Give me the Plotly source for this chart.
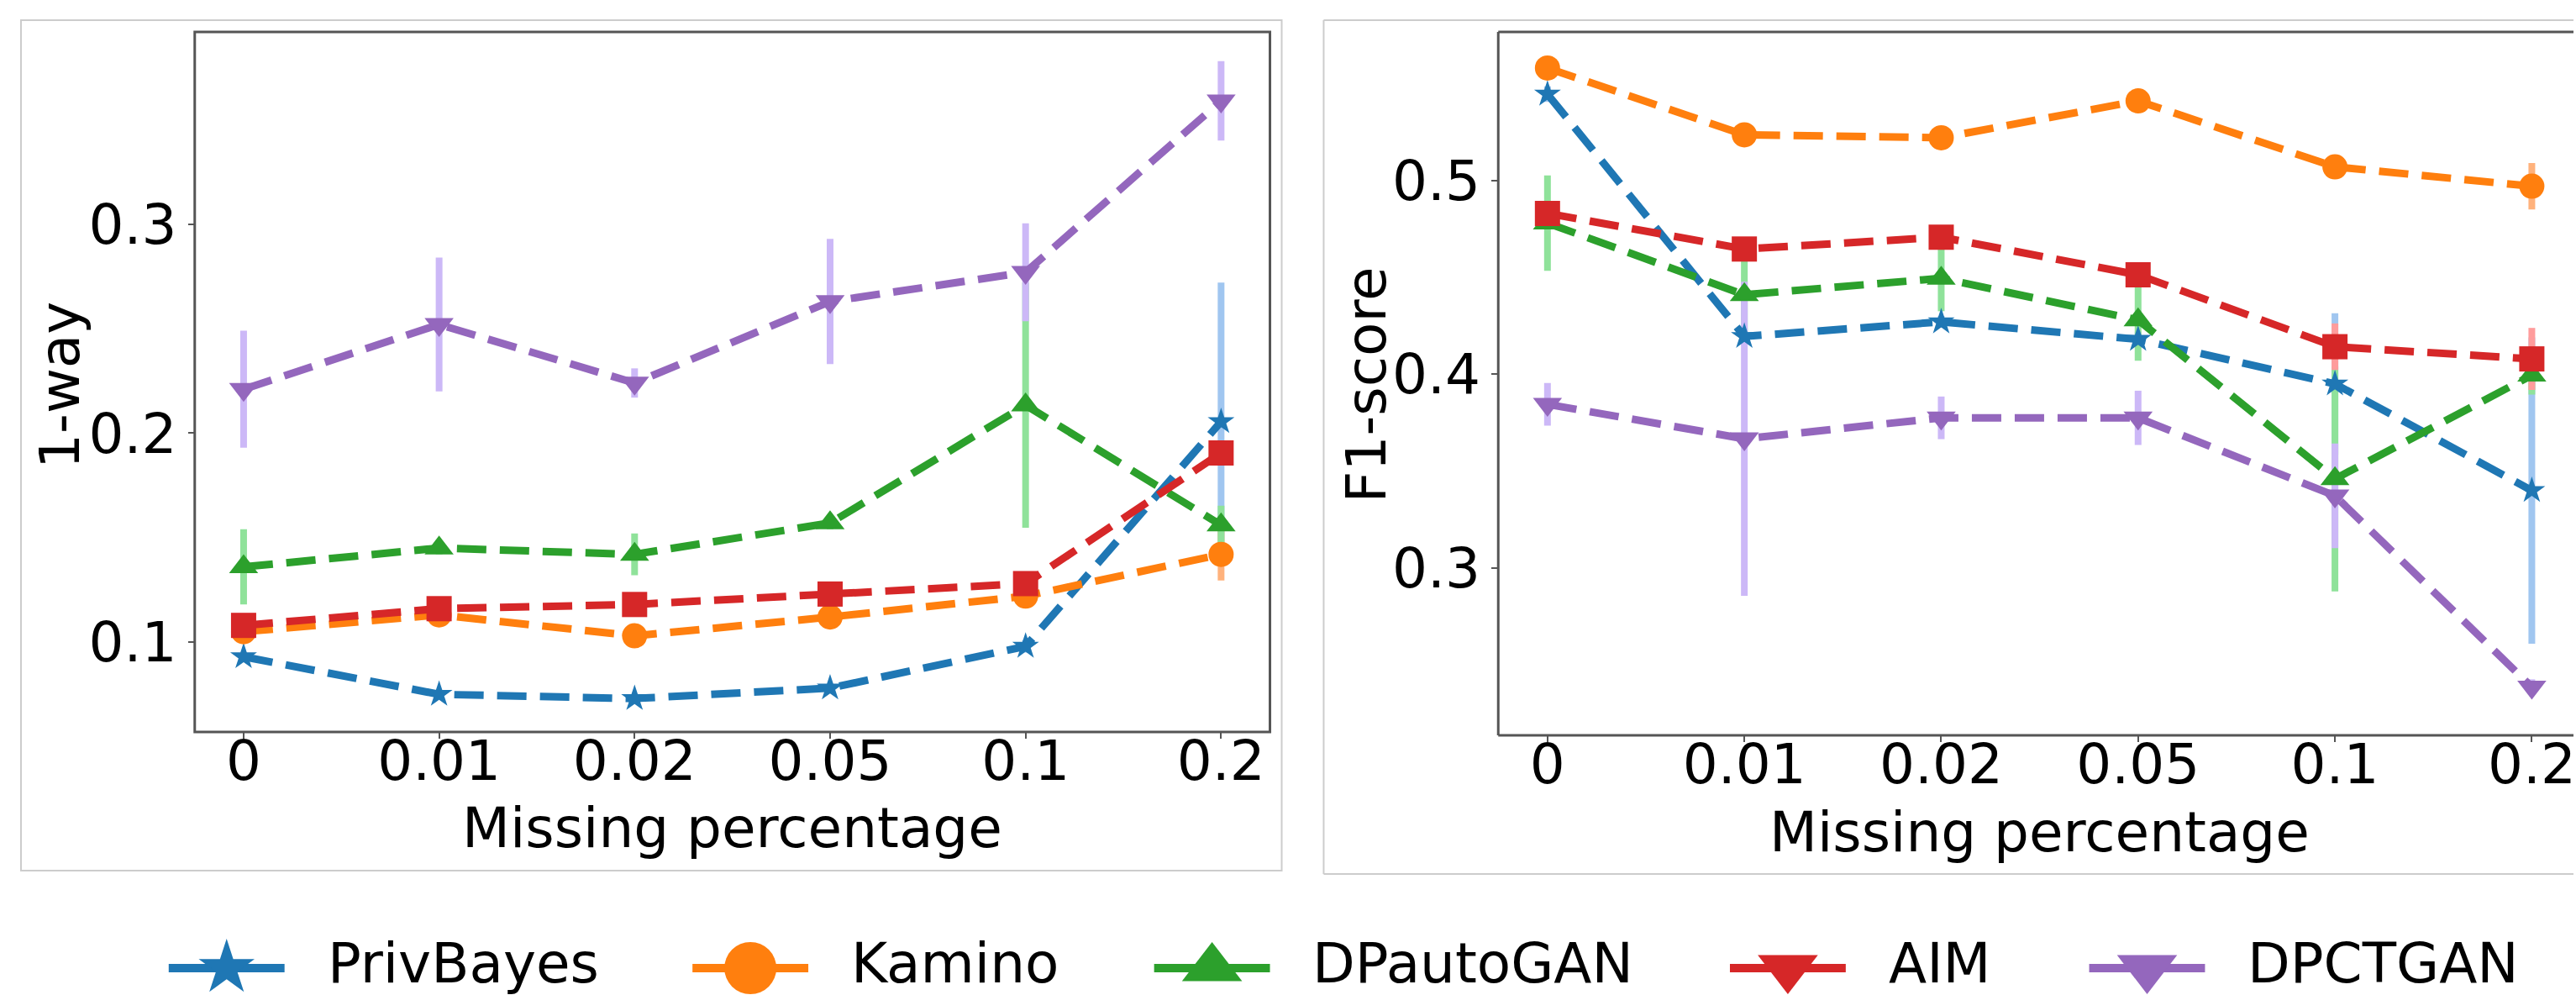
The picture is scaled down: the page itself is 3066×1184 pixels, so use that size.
import plotly.graph_objects as go

W, H = 3066, 1184

# ---------------- data ----------------
x_labels = ["0", "0.01", "0.02", "0.05", "0.1", "0.2"]
methods = ["PrivBayes", "Kamino", "DPautoGAN", "AIM", "DPCTGAN"]

oneway_privbayes = [0.093, 0.075, 0.073, 0.078, 0.098, 0.2055]
oneway_kamino = [0.105, 0.113, 0.103, 0.112, 0.122, 0.142]
oneway_dpautogan = [0.136, 0.145, 0.142, 0.157, 0.2134, 0.156]
oneway_aim = [0.108, 0.116, 0.118, 0.123, 0.128, 0.1905]
oneway_dpctgan = [0.221, 0.252, 0.224, 0.263, 0.277, 0.359]

oneway_err_privbayes = [0.002, 0.002, 0.002, 0.002, 0.003, 0.0666]
oneway_err_kamino = [0.002, 0.002, 0.002, 0.002, 0.002, 0.0125]
oneway_err_dpautogan = [0.018, 0.003, 0.010, 0.003, 0.0587, 0.0093]
oneway_err_aim = [0.003, 0.003, 0.003, 0.003, 0.004, 0.004]
oneway_err_dpctgan = [0.028, 0.032, 0.007, 0.030, 0.0234, 0.019]

f1_privbayes = [0.5445, 0.4195, 0.427, 0.418, 0.395, 0.340]
f1_kamino = [0.558, 0.5235, 0.522, 0.541, 0.507, 0.497]
f1_dpautogan = [0.478, 0.4410, 0.4495, 0.428, 0.346, 0.3995]
f1_aim = [0.483, 0.4646, 0.4707, 0.4513, 0.4142, 0.4079]
f1_dpctgan = [0.3845, 0.3667, 0.3775, 0.3775, 0.3373, 0.2386]

f1_err_privbayes = [0.004, 0.004, 0.003, 0.004, 0.0365, 0.079]
f1_err_kamino = [0.003, 0.003, 0.003, 0.003, 0.003, 0.012]
f1_err_dpautogan = [0.0246, 0.02, 0.017, 0.021, 0.058, 0.010]
f1_err_aim = [0.004, 0.004, 0.004, 0.005, 0.012, 0.016]
f1_err_dpctgan = [0.011, 0.081, 0.011, 0.014, 0.027, 0.004]

oneway_vals = [oneway_privbayes, oneway_kamino, oneway_dpautogan, oneway_aim, oneway_dpctgan]
oneway_errs = [oneway_err_privbayes, oneway_err_kamino, oneway_err_dpautogan, oneway_err_aim, oneway_err_dpctgan]
f1_vals = [f1_privbayes, f1_kamino, f1_dpautogan, f1_aim, f1_dpctgan]
f1_errs = [f1_err_privbayes, f1_err_kamino, f1_err_dpautogan, f1_err_aim, f1_err_dpctgan]

# ---------------- styles ----------------
colors = ["#1f77b4", "#ff7f0e", "#2ca02c", "#d62728", "#9467bd"]
err_colors = ["#a0c6f0", "#ffb27c", "#8fe29a", "#ff9c9c", "#ccb8f7"]
symbols = ["star", "circle", "triangle-up", "square", "triangle-down"]
sizes = [24, 30, 30, 30, 30]
legend_symbols = ["star", "circle", "triangle-up", "triangle-down", "triangle-down"]
legend_sizes = [50, 62, 62, 62, 62]
legend_centers = [270, 894, 1444, 2130, 2558]

FONT = "DejaVu Sans"
FS = 66
xpos = list(range(len(x_labels)))


def px(x):
    return x / W


def py(y):
    return 1 - y / H


fig = go.Figure()

panels = [("x", "y", oneway_vals, oneway_errs), ("x2", "y2", f1_vals, f1_errs)]

# error bars first (below all lines)
for xa, ya, vals, errs in panels:
    for i in range(len(methods)):
        fig.add_trace(go.Scatter(
            x=xpos, y=vals[i], xaxis=xa, yaxis=ya, mode="markers",
            marker=dict(size=1, opacity=0),
            error_y=dict(type="data", array=errs[i], visible=True,
                         color=err_colors[i], thickness=8, width=0),
            showlegend=False, hoverinfo="skip"))

# lines + markers
for xa, ya, vals, errs in panels:
    for i, m in enumerate(methods):
        fig.add_trace(go.Scatter(
            x=xpos, y=vals[i], xaxis=xa, yaxis=ya, mode="lines+markers",
            name=m,
            line=dict(color=colors[i], width=9, dash="35px,16px"),
            marker=dict(symbol=symbols[i], size=sizes[i], color=colors[i],
                        opacity=1, line=dict(width=0)),
            showlegend=False))

# custom legend (big symbols as in reference)
for i, m in enumerate(methods):
    c = legend_centers[i]
    fig.add_trace(go.Scatter(
        x=[c - 69, c, c + 69], y=[1152, 1152, 1152], xaxis="x3", yaxis="y3",
        mode="lines+markers",
        line=dict(color=colors[i], width=10),
        marker=dict(symbol=legend_symbols[i], size=[0, legend_sizes[i], 0],
                    color=colors[i], opacity=1, line=dict(width=0)),
        showlegend=False, hoverinfo="skip"))

annotations = []
for i, m in enumerate(methods):
    annotations.append(dict(
        x=px(legend_centers[i] + 118), y=py(1146), xref="paper", yref="paper",
        text=m, showarrow=False, xanchor="left", yanchor="middle",
        font=dict(family=FONT, size=FS, color="black")))

# axis titles
annotations += [
    dict(x=px(872), y=py(985), xref="paper", yref="paper", text="Missing percentage",
         showarrow=False, xanchor="center", yanchor="middle",
         font=dict(family=FONT, size=FS, color="black")),
    dict(x=px(2430), y=py(990), xref="paper", yref="paper", text="Missing percentage",
         showarrow=False, xanchor="center", yanchor="middle",
         font=dict(family=FONT, size=FS, color="black")),
    dict(x=px(71), y=py(458), xref="paper", yref="paper", text="1-way",
         showarrow=False, textangle=-90, xanchor="center", yanchor="middle",
         font=dict(family=FONT, size=FS, color="black")),
    dict(x=px(1628), y=py(458), xref="paper", yref="paper", text="F1-score",
         showarrow=False, textangle=-90, xanchor="center", yanchor="middle",
         font=dict(family=FONT, size=FS, color="black")),
]

axis_common = dict(showgrid=False, zeroline=False, showline=False,
                   ticks="outside", ticklen=7, tickwidth=2, tickcolor="#555555",
                   tickfont=dict(family=FONT, size=FS, color="black"))

right_extent = 5.25 - (3075 - W) / 234.6

fig.update_layout(
    width=W, height=H, margin=dict(l=0, r=0, t=0, b=0),
    paper_bgcolor="white", plot_bgcolor="rgba(0,0,0,0)",
    showlegend=False,
    xaxis=dict(domain=[px(232), px(1513)], range=[-0.25, 5.25],
               tickvals=xpos, ticktext=x_labels, anchor="y",
               ticklabelstandoff=-30, **axis_common),
    yaxis=dict(domain=[py(871), py(38)], range=[0.057, 0.392],
               tickvals=[0.1, 0.2, 0.3], ticktext=["0.1", "0.2", "0.3"],
               anchor="x", **axis_common),
    xaxis2=dict(domain=[px(1785), 1.0], range=[-0.25, right_extent],
                tickvals=xpos, ticktext=x_labels, anchor="y2",
                ticklabelstandoff=-30, ticklabeloverflow="allow", **axis_common),
    yaxis2=dict(domain=[py(875), py(38)], range=[0.2137, 0.5766],
                tickvals=[0.3, 0.4, 0.5], ticktext=["0.3", "0.4", "0.5"],
                anchor="x2", **axis_common),
    xaxis3=dict(domain=[0, 1], range=[0, W], visible=False, fixedrange=True,
                anchor="y3"),
    yaxis3=dict(domain=[0, 1], range=[H, 0], visible=False, fixedrange=True,
                anchor="x3"),
    annotations=annotations,
)

frame_col = "#555555"
shapes = [
    # outer light boxes
    dict(type="rect", xref="paper", yref="paper", x0=px(25), x1=px(1527),
         y0=py(1036), y1=py(24), line=dict(color="#cccccc", width=2), layer="below"),
    dict(type="line", xref="paper", yref="paper", x0=px(1577), x1=1.0,
         y0=py(24), y1=py(24), line=dict(color="#cccccc", width=2), layer="below"),
    dict(type="line", xref="paper", yref="paper", x0=px(1577), x1=1.0,
         y0=py(1040), y1=py(1040), line=dict(color="#cccccc", width=2), layer="below"),
    dict(type="line", xref="paper", yref="paper", x0=px(1577), x1=px(1577),
         y0=py(1040), y1=py(24), line=dict(color="#cccccc", width=2), layer="below"),
    # plot frames
    dict(type="rect", xref="x domain", yref="y domain", x0=0, x1=1, y0=0, y1=1,
         line=dict(color=frame_col, width=3)),
    dict(type="line", xref="x2 domain", yref="y2 domain", x0=0, x1=1, y0=1, y1=1,
         line=dict(color=frame_col, width=3)),
    dict(type="line", xref="x2 domain", yref="y2 domain", x0=0, x1=1, y0=0, y1=0,
         line=dict(color=frame_col, width=3)),
    dict(type="line", xref="x2 domain", yref="y2 domain", x0=0, x1=0, y0=0, y1=1,
         line=dict(color=frame_col, width=3)),
]
fig.update_layout(shapes=shapes)

fig.write_html("out.html", config={"displayModeBar": False},
               post_script="document.body.style.margin='0';document.body.style.overflow='hidden';")
